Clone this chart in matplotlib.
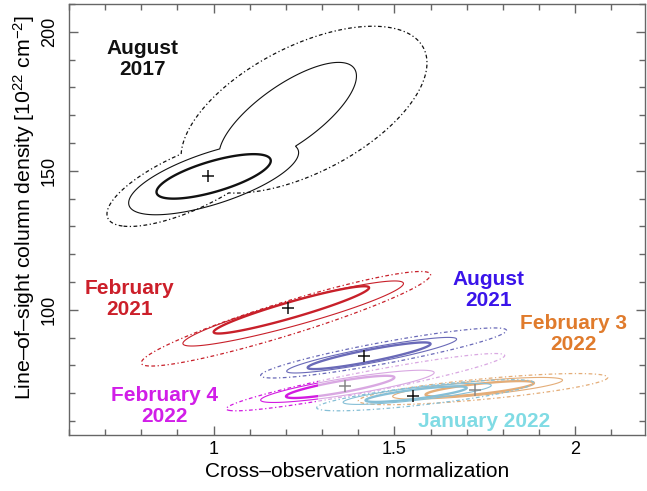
import numpy as np
import matplotlib
matplotlib.use("Agg")
import matplotlib.pyplot as plt
from matplotlib.patches import Rectangle

plt.rcParams['font.family'] = ['Liberation Sans', 'DejaVu Sans']
plt.rcParams['mathtext.fontset'] = 'custom'
plt.rcParams['mathtext.rm'] = 'Liberation Sans'
plt.rcParams['mathtext.it'] = 'Liberation Sans:italic'
plt.rcParams['mathtext.bf'] = 'Liberation Sans:bold'

# ---------------- data ----------------
# best-fit positions (normalization, column density)
best_x = [0.985, 1.207, 1.416, 1.363, 1.552, 1.724]
best_y = [148.2, 100.5, 83.5, 72.7, 69.1, 71.1]

# confidence regions: each contour is the union of ellipse components
# component = (centre x, centre y, x half-extent, y half-extent, correlation)
aug2017_1s = [(1.000, 148.0, 0.158, 8.0, 0.70)]
aug2017_2s = [(1.000, 147.5, 0.235, 13.3, 0.68), (1.205, 170.0, 0.190, 19.0, 0.74)]
aug2017_3s = [(0.930, 146.0, 0.225, 16.0, 0.72), (1.250, 172.0, 0.340, 30.0, 0.56)]
feb2021_1s = [(1.215, 100.0, 0.215, 8.5, 0.936)]
feb2021_2s = [(1.220, 98.7, 0.305, 11.7, 0.92)]
feb2021_3s = [(1.200, 96.8, 0.400, 17.0, 0.93)]
aug2021_1s = [(1.430, 83.5, 0.170, 4.8, 0.89)]
aug2021_2s = [(1.437, 83.7, 0.235, 6.4, 0.90)]
aug2021_3s = [(1.470, 84.5, 0.340, 9.0, 0.90)]
feb4_2022_1s = [(1.350, 72.3, 0.150, 4.0, 0.85)]
feb4_2022_2s = [(1.370, 72.5, 0.240, 5.8, 0.85)]
feb4_2022_3s = [(1.420, 74.0, 0.385, 10.3, 0.93)]
jan2022_1s = [(1.560, 69.7, 0.140, 2.8, 0.80)]
jan2022_2s = [(1.563, 69.8, 0.205, 3.8, 0.80)]
jan2022_3s = [(1.585, 69.3, 0.300, 5.6, 0.80)]
feb3_2022_1s = [(1.736, 71.6, 0.150, 2.8, 0.75)]
feb3_2022_2s = [(1.730, 71.8, 0.235, 3.9, 0.75)]
feb3_2022_3s = [(1.745, 71.5, 0.345, 5.6, 0.75)]

label_texts = ["August\n2017", "February\n2021", "August\n2021",
               "February 4\n2022", "January 2022", "February 3\n2022"]
label_x = [0.802, 0.767, 1.761, 0.863, 1.747, 1.996]
label_y = [190.3, 104.0, 107.2, 65.5, 59.7, 91.4]

x_major = [1, 1.5, 2]
y_major = [100, 150, 200]

# ---------------- figure ----------------
fig = plt.figure(figsize=(6.47, 4.91), dpi=100)
ax = fig.add_axes([69 / 647, 56 / 491, 576 / 647, 431 / 491])
ax.set_xlim(0.6, 2.193)
ax.set_ylim(55, 210)

gx = np.linspace(0.6, 2.2, 900)
gy = np.linspace(55, 210, 900)
GX, GY = np.meshgrid(gx, gy)


def field(components):
    z = np.full(GX.shape, np.inf)
    for cx, cy, a, b, r in components:
        u = (GX - cx) / a
        v = (GY - cy) / b
        q = (u * u - 2 * r * u * v + v * v) / (1 - r * r)
        z = np.minimum(z, q)
    return z


dotdash = (0, (3.0, 2.0, 1.0, 2.0))


def draw(components, color, lw, ls, clip=None, zorder=2):
    cs = ax.contour(GX, GY, field(components), levels=[1.0], colors=[color],
                    linewidths=lw, linestyles=[ls], zorder=zorder)
    if clip is not None:
        rect = Rectangle((clip[0], 0), clip[1] - clip[0], 1000,
                         transform=ax.transData)
        cs.set_clip_path(rect)
    return cs


def draw_set(sets, color, clip=None):
    c1, c2, c3 = sets
    draw(c3, color, 0.9, dotdash, clip)
    draw(c2, color, 0.8, 'solid', clip)
    draw(c1, color, 1.7, 'solid', clip)


draw_set([aug2017_1s, aug2017_2s, aug2017_3s], '#111111')
draw_set([feb2021_1s, feb2021_2s, feb2021_3s], '#c8202a')
# February 4 2022: strong colour on the left, faded on the right
draw_set([feb4_2022_1s, feb4_2022_2s, feb4_2022_3s], '#d21ae0', clip=(0.6, 1.29))
draw_set([feb4_2022_1s, feb4_2022_2s, feb4_2022_3s], '#d9a8e2', clip=(1.29, 2.3))
draw_set([aug2021_1s, aug2021_2s, aug2021_3s], '#6a6ab8')
draw_set([feb3_2022_1s, feb3_2022_2s, feb3_2022_3s], '#e4ad78')
draw_set([jan2022_1s, jan2022_2s, jan2022_3s], '#86bfd6')

cross_colors = ['#111111', '#111111', '#111111', '#888888', '#111111', '#888888']
for xb, yb, cc in zip(best_x, best_y, cross_colors):
    ax.plot(xb, yb, marker='+', color=cc, markersize=8, mew=1.1, zorder=5)

label_colors = ['#111111', '#cc1f2a', '#3a14ea', '#d11ee8', '#80dbe4', '#e07b2c']
for t, xl, yl, c in zip(label_texts, label_x, label_y, label_colors):
    ax.text(xl, yl, t, color=c, fontsize=15, fontweight='bold',
            ha='center', va='center', multialignment='center',
            linespacing=1.15, zorder=6)

# axes styling
ax.set_xticks(x_major)
ax.set_xticklabels(['1', '1.5', '2'])
ax.set_yticks(y_major)
ax.set_yticklabels(['100', '150', '200'])
ax.set_xticks(np.arange(0.6, 2.2, 0.1), minor=True)
ax.set_yticks(np.arange(60, 211, 10), minor=True)
for s in ax.spines.values():
    s.set_color('#666666')
    s.set_linewidth(1.0)
ax.tick_params(which='both', direction='in', top=True, right=True,
               color='#666666', width=1.0, labelsize=13)
ax.tick_params(which='major', length=6.5)
ax.tick_params(which='minor', length=4.5)
ax.tick_params(axis='x', pad=4)
ax.tick_params(axis='y', pad=8)
plt.setp(ax.get_yticklabels(), rotation=90, va='center')

ax.set_xlabel('Cross\u2013observation normalization', fontsize=15, labelpad=3)
ax.set_ylabel('Line\u2013of\u2013sight column density [$\\mathregular{10^{22}\\ cm^{-2}}$]',
              fontsize=15.3)
ax.yaxis.set_label_coords(-0.056, 0.527)

fig.savefig('out.png', dpi=100)
